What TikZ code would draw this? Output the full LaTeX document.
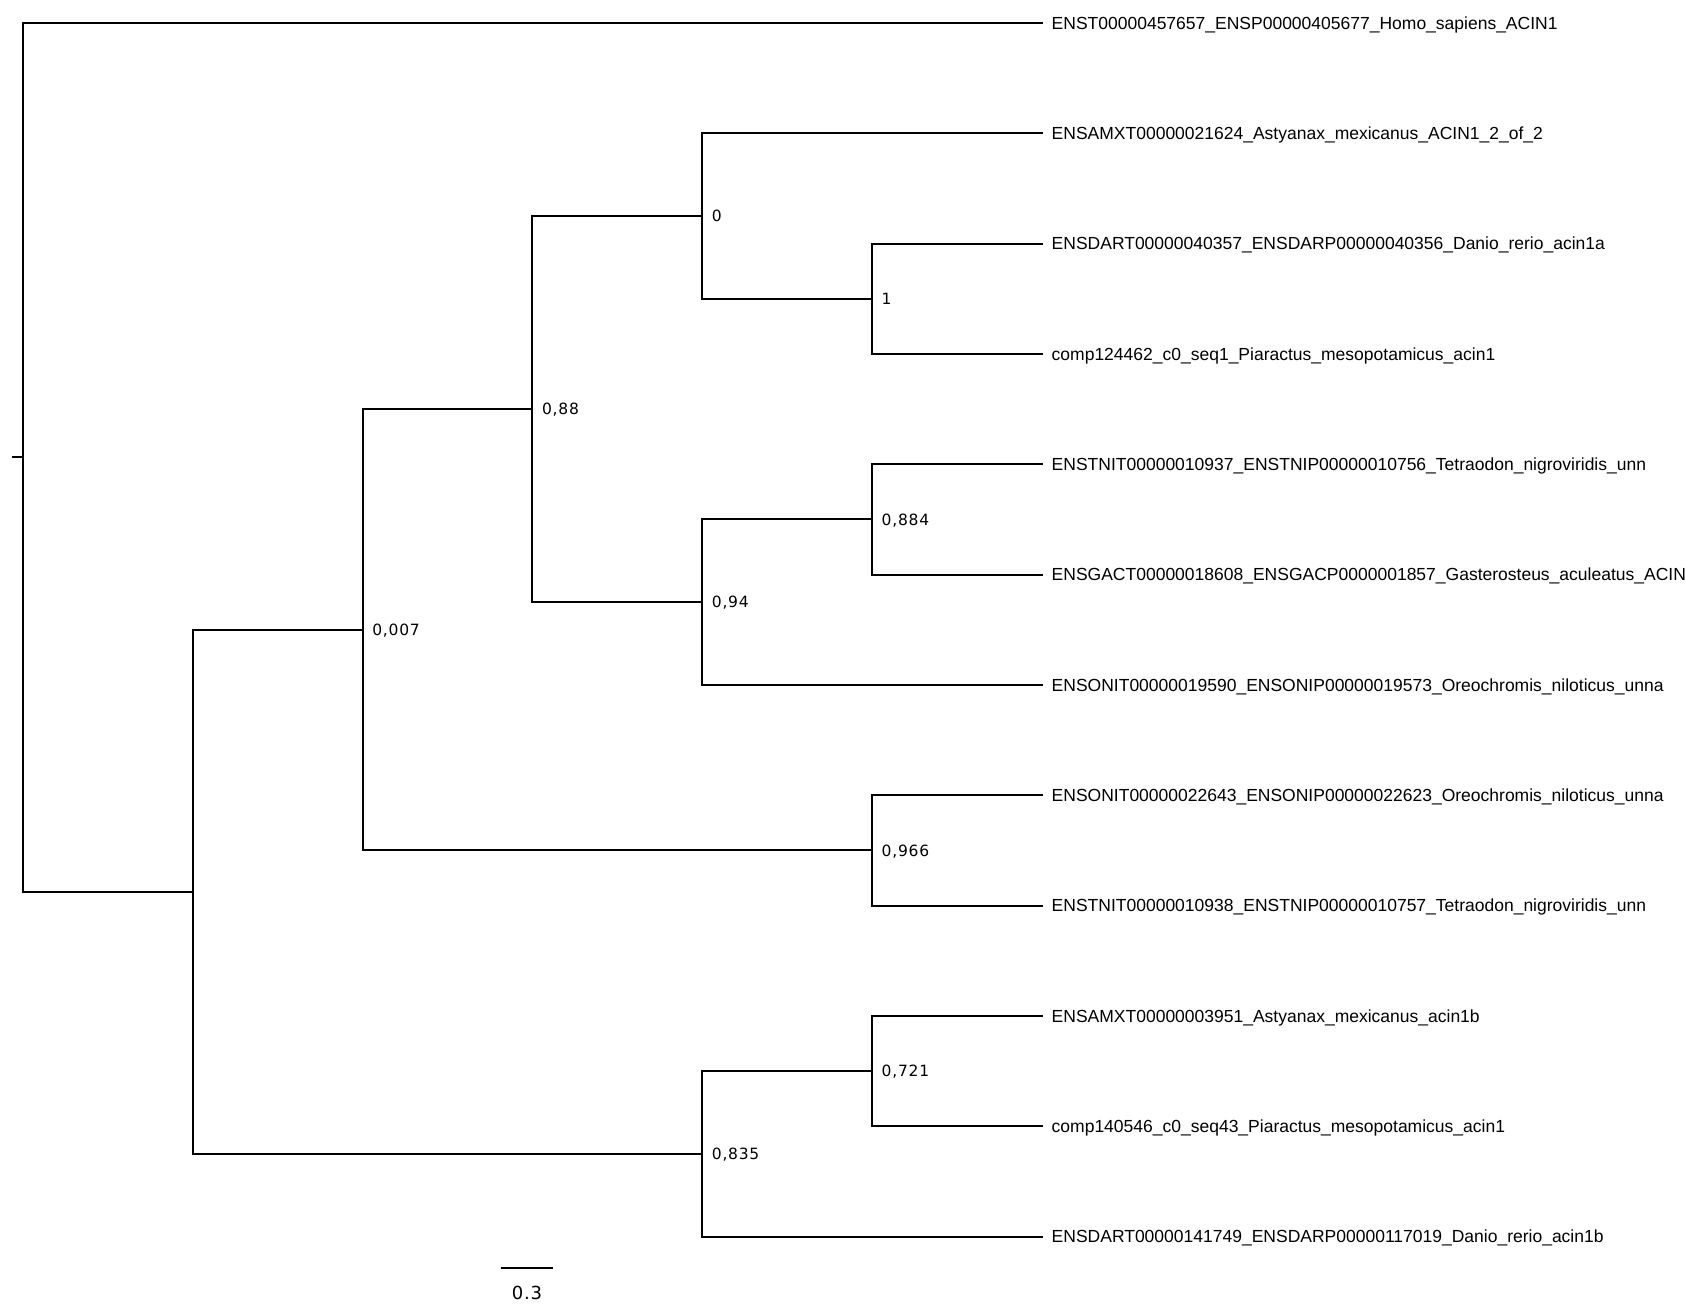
\documentclass[tikz,border=0pt]{standalone}
\usepackage{fontspec}
\setmainfont{Liberation Sans}
\newfontfamily\supportfont[LetterSpace=5]{DejaVu Sans}
\usepackage{tikz}

\tikzset{
    branch/.style={line width=2pt},
    leaflabel/.style={anchor=base west, inner sep=0pt, yshift=-6.3pt, font=\fontsize{17.5}{20}\selectfont},
    supportlabel/.style={anchor=base west, inner sep=0pt, yshift=-5.65pt, font=\supportfont\fontsize{15.5}{18}\selectfont},
    scalelabel/.style={anchor=base, inner sep=0pt, font=\supportfont\fontsize{18}{21}\selectfont}
}

\begin{document}
\begin{tikzpicture}[x=1pt,y=-1pt]

        \useasboundingbox (0,0) rectangle (1685,1306);

        %internal nodes of the tree
        \coordinate (stub) at (11.7,457.42);
        \coordinate (root) at (23,457.42);
        \coordinate (nA) at (192.8,891.85);
        \coordinate (nB) at (362.6,629.82);
        \coordinate (nC) at (532.4,409.16);
        \coordinate (nD) at (702.2,216.08);
        \coordinate (nE) at (872,298.83);
        \coordinate (nF) at (702.2,602.23);
        \coordinate (nG) at (872,519.49);
        \coordinate (nH) at (872,850.48);
        \coordinate (nI) at (702.2,1153.88);
        \coordinate (nJ) at (872,1071.14);

        %tips of the tree
        \coordinate (homo) at (1043,23);
        \coordinate (amx2) at (1043,133.33);
        \coordinate (dreA) at (1043,243.66);
        \coordinate (pme1) at (1043,353.99);
        \coordinate (tni1) at (1043,464.32);
        \coordinate (gac) at (1043,574.65);
        \coordinate (oni1) at (1043,684.98);
        \coordinate (oni2) at (1043,795.31);
        \coordinate (tni2) at (1043,905.64);
        \coordinate (amxB) at (1043,1015.97);
        \coordinate (pme43) at (1043,1126.30);
        \coordinate (dreB) at (1043,1236.63);

        %branches
        \draw [branch] (stub) -- (root);
        \draw [branch] (root) |- (homo);
        \draw [branch] (root) |- (nA);
        \draw [branch] (nA) |- (nB);
        \draw [branch] (nA) |- (nI);
        \draw [branch] (nB) |- (nC);
        \draw [branch] (nB) |- (nH);
        \draw [branch] (nC) |- (nD);
        \draw [branch] (nC) |- (nF);
        \draw [branch] (nD) |- (amx2);
        \draw [branch] (nD) |- (nE);
        \draw [branch] (nE) |- (dreA);
        \draw [branch] (nE) |- (pme1);
        \draw [branch] (nF) |- (nG);
        \draw [branch] (nF) |- (oni1);
        \draw [branch] (nG) |- (tni1);
        \draw [branch] (nG) |- (gac);
        \draw [branch] (nH) |- (oni2);
        \draw [branch] (nH) |- (tni2);
        \draw [branch] (nI) |- (nJ);
        \draw [branch] (nI) |- (dreB);
        \draw [branch] (nJ) |- (amxB);
        \draw [branch] (nJ) |- (pme43);

        %support values
        \node [supportlabel] (sB) at (372.1,629.82) {0,007};
        \node [supportlabel] (sC) at (541.9,409.16) {0,88};
        \node [supportlabel] (sD) at (711.7,216.08) {0};
        \node [supportlabel] (sE) at (881.5,298.83) {1};
        \node [supportlabel] (sF) at (711.7,602.23) {0,94};
        \node [supportlabel] (sG) at (881.5,519.49) {0,884};
        \node [supportlabel] (sH) at (881.5,850.48) {0,966};
        \node [supportlabel] (sI) at (711.7,1153.88) {0,835};
        \node [supportlabel] (sJ) at (881.5,1071.14) {0,721};

        %tip labels
        \node [leaflabel] (homoL) at (1051.5,23) {ENST00000457657\_ENSP00000405677\_Homo\_sapiens\_ACIN1};
        \node [leaflabel] (amx2L) at (1051.5,133.33) {ENSAMXT00000021624\_Astyanax\_mexicanus\_ACIN1\_2\_of\_2};
        \node [leaflabel] (dreAL) at (1051.5,243.66) {ENSDART00000040357\_ENSDARP00000040356\_Danio\_rerio\_acin1a};
        \node [leaflabel] (pme1L) at (1051.5,353.99) {comp124462\_c0\_seq1\_Piaractus\_mesopotamicus\_acin1};
        \node [leaflabel] (tni1L) at (1051.5,464.32) {ENSTNIT00000010937\_ENSTNIP00000010756\_Tetraodon\_nigroviridis\_unn};
        \node [leaflabel] (gacL) at (1051.5,574.65) {ENSGACT00000018608\_ENSGACP0000001857\_Gasterosteus\_aculeatus\_ACIN};
        \node [leaflabel] (oni1L) at (1051.5,684.98) {ENSONIT00000019590\_ENSONIP00000019573\_Oreochromis\_niloticus\_unna};
        \node [leaflabel] (oni2L) at (1051.5,795.31) {ENSONIT00000022643\_ENSONIP00000022623\_Oreochromis\_niloticus\_unna};
        \node [leaflabel] (tni2L) at (1051.5,905.64) {ENSTNIT00000010938\_ENSTNIP00000010757\_Tetraodon\_nigroviridis\_unn};
        \node [leaflabel] (amxBL) at (1051.5,1015.97) {ENSAMXT00000003951\_Astyanax\_mexicanus\_acin1b};
        \node [leaflabel] (pme43L) at (1051.5,1126.30) {comp140546\_c0\_seq43\_Piaractus\_mesopotamicus\_acin1};
        \node [leaflabel] (dreBL) at (1051.5,1236.63) {ENSDART00000141749\_ENSDARP00000117019\_Danio\_rerio\_acin1b};

        %scale bar
        \coordinate (barL) at (500.7,1268);
        \coordinate (barR) at (553.3,1268);
        \draw [branch] (barL) -- (barR);
        \node [scalelabel] (barT) at (527,1299.5) {0.3};

\end{tikzpicture}
\end{document}
